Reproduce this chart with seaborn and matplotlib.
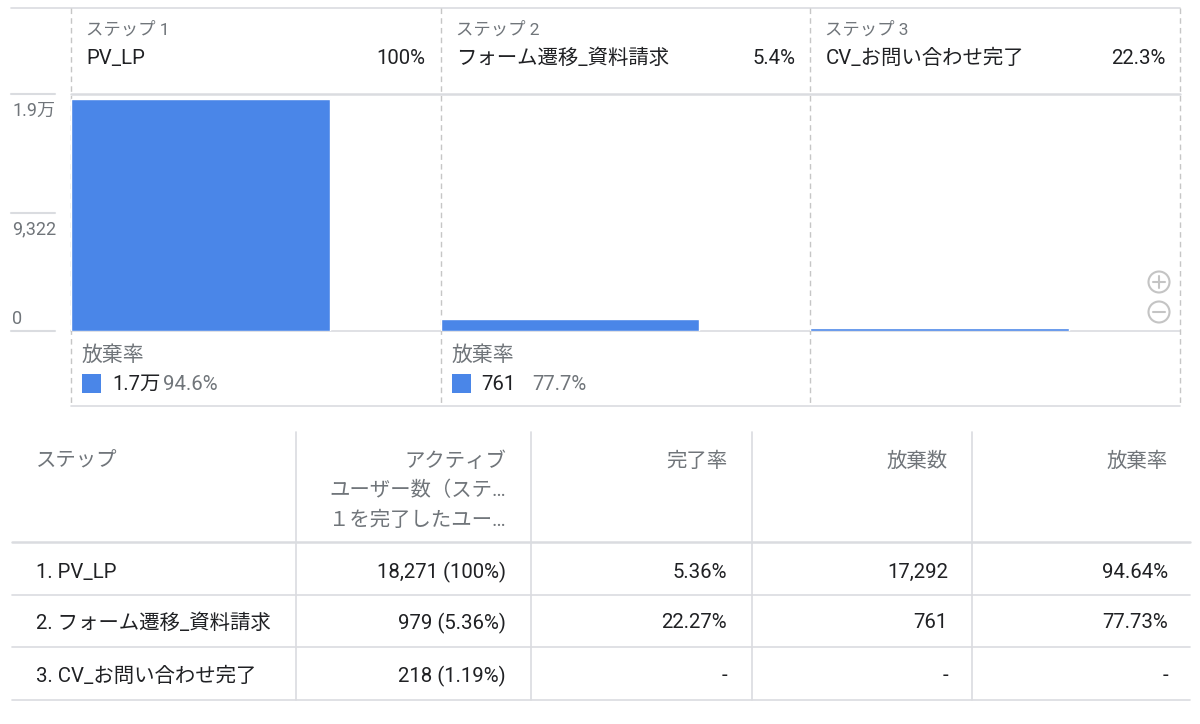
import matplotlib.pyplot as plt
import seaborn as sns
from matplotlib.patches import Circle, Rectangle

# funnel data (GA4 funnel exploration)
steps = ["PV_LP", "フォーム遷移_資料請求", "CV_お問い合わせ完了"]
step_labels = ["ステップ 1", "ステップ 2", "ステップ 3"]
users = [18271, 979, 218]
header_pct = ["100%", "5.4%", "22.3%"]
user_share = ["100%", "5.36%", "1.19%"]
completion = ["5.36%", "22.27%", "-"]
abandon = ["17,292", "761", "-"]
abandon_rate = ["94.64%", "77.73%", "-"]
footer_abandon = ["1.7万", "761"]
footer_rate = ["94.6%", "77.7%"]
ytick_values = [0, 9322, 18644]
ytick_labels = ["0", "9,322", "1.9万"]
table_header = ["ステップ", "アクティブ\nユーザー数（ステ…\n１を完了したユー…", "完了率", "放棄数", "放棄率"]

BLUE = "#4a86e8"
DARK = "#202124"
GRAY = "#70757a"
LINE = "#dadce0"
FONT = ["Roboto", "Noto Sans CJK JP", "DejaVu Sans"]
FS = 14.7

sns.set_theme(style="white")
plt.rcParams["font.family"] = FONT

fig = plt.figure(figsize=(12, 7.24), dpi=100)

# background axes in pixel coordinates for frame, headers and table
bg = fig.add_axes([0, 0, 1, 1])
bg.set_xlim(0, 1200)
bg.set_ylim(724, 0)
bg.axis("off")

x0, x1 = 71, 1180
top_y, sep_y, base_y, foot_y = 7.5, 94, 331, 406
col_w = (x1 - x0) / 3

# bar chart axes
ax = fig.add_axes([x0 / 1200, (724 - base_y) / 724, (x1 - x0) / 1200, (base_y - sep_y) / 724])
ax.patch.set_alpha(0)
sns.barplot(x=steps, y=users, color=BLUE, saturation=1, width=0.7, ax=ax)
ax.set_xlim(-0.35, 2.65)
ax.set_ylim(0, ytick_values[-1])
ax.axis("off")

# y tick stubs + labels
ytr = ax.get_yaxis_transform()
stub0, stub1 = (11 - x0) / (x1 - x0), (55 - x0) / (x1 - x0)
for v, lab in zip(ytick_values, ytick_labels):
    ax.plot([stub0, stub1], [v, v], transform=ytr, color=LINE, lw=1.5, clip_on=False)
    if v == 0:
        ax.annotate(lab, xy=(stub0, v), xycoords=ytr, xytext=(1, 3), textcoords="offset pixels",
                    ha="left", va="bottom", fontsize=13, color=GRAY)
    else:
        ax.annotate(lab, xy=(stub0, v), xycoords=ytr, xytext=(1, -8), textcoords="offset pixels",
                    ha="left", va="top", fontsize=13, color=GRAY)

# frame lines
bg.plot([11, x1], [top_y, top_y], color=LINE, lw=1.2)
bg.plot([x0, x1], [sep_y, sep_y], color=LINE, lw=1.8)
bg.plot([x0, x1], [base_y, base_y], color=LINE, lw=1.2)
bg.plot([x0, x1], [foot_y, foot_y], color=LINE, lw=1.2)
for i in range(4):
    cx = x0 + i * col_w
    bg.plot([cx, cx], [top_y, foot_y], color="#c6c6c6", lw=1, ls=(0, (4, 3)))

# step headers
for i in range(3):
    cx = x0 + i * col_w
    bg.text(cx + 15, 30, step_labels[i], fontsize=12.5, color=GRAY, va="center", ha="left")
    bg.text(cx + 15, 58, steps[i], fontsize=FS, color=DARK, va="center", ha="left")
    bg.text(cx + col_w - 15, 58, header_pct[i], fontsize=FS, color=DARK, va="center", ha="right")

# abandonment footer
for i in range(len(footer_abandon)):
    cx = x0 + i * col_w
    bg.text(cx + 11, 355, "放棄率", fontsize=15, color=GRAY, va="center", ha="left")
    bg.add_patch(Rectangle((cx + 11, 374), 19, 19, color=BLUE, lw=0))
    bg.text(cx + 41, 384, footer_abandon[i], fontsize=FS, color=DARK, va="center", ha="left")
    bg.text(cx + 92, 384, footer_rate[i], fontsize=FS, color=GRAY, va="center", ha="left")

# zoom icons
for yy, sym in [(282, "+"), (312, "-")]:
    bg.add_patch(Circle((1159, yy), 10.5, fill=False, ec="#c4c4c4", lw=1.5))
    bg.plot([1153, 1165], [yy, yy], color="#c4c4c4", lw=1.5)
    if sym == "+":
        bg.plot([1159, 1159], [yy - 6, yy + 6], color="#c4c4c4", lw=1.5)

# table
col_right = [506, 727, 948, 1168]
for x in [296, 531, 752, 972]:
    bg.plot([x, x], [432, 700], color=LINE, lw=1.2)
bg.plot([12, 1190], [542, 542], color=LINE, lw=1.8)
for y in [595, 647, 700]:
    bg.plot([12, 1190], [y, y], color=LINE, lw=1.2)

bg.text(36, 461, table_header[0], fontsize=FS, color=GRAY, va="center", ha="left")
for j, line in enumerate(table_header[1].split("\n")):
    bg.text(col_right[0], 461 + j * 29.5, line, fontsize=FS, color=GRAY, va="center", ha="right")
for k in range(3):
    bg.text(col_right[k + 1], 461, table_header[k + 2], fontsize=FS, color=GRAY, va="center", ha="right")

row_y = [572, 623, 676]
for i in range(3):
    y = row_y[i]
    bg.text(36, y, f"{i + 1}. {steps[i]}", fontsize=FS, color=DARK, va="center", ha="left")
    bg.text(col_right[0], y, f"{users[i]:,} ({user_share[i]})", fontsize=FS, color=DARK, va="center", ha="right")
    bg.text(col_right[1], y, completion[i], fontsize=FS, color=DARK, va="center", ha="right")
    bg.text(col_right[2], y, abandon[i], fontsize=FS, color=DARK, va="center", ha="right")
    bg.text(col_right[3], y, abandon_rate[i], fontsize=FS, color=DARK, va="center", ha="right")

fig.savefig("out.png", dpi=100, facecolor="white")
